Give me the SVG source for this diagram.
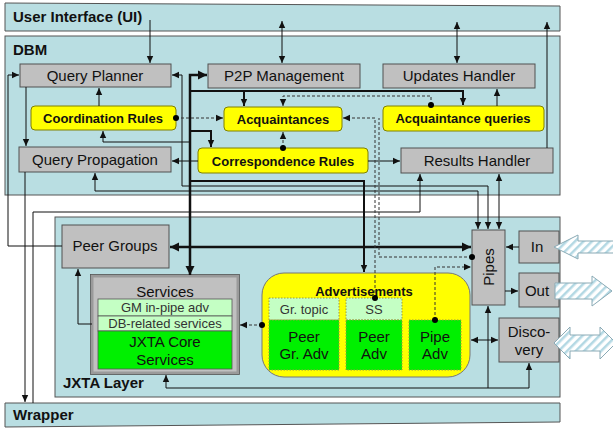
<svg xmlns="http://www.w3.org/2000/svg" width="613" height="428" viewBox="0 0 613 428">
<defs>
<style>
.layer{fill:#b9dee2;stroke:#555;stroke-width:1}
.gray{fill:#c0c0c0;stroke:#505050;stroke-width:1}
.yel{fill:#ffff00;stroke:#808000;stroke-width:1}
.lg{fill:#c4ffc4;stroke:#9a9a40;stroke-width:1;stroke-dasharray:1.5,1.5}
.bg{fill:#00f000;stroke:#9a9a40;stroke-width:1;stroke-dasharray:1.5,1.5}
.t{font-family:"Liberation Sans",Arial,sans-serif;font-size:15px;fill:#111;text-anchor:middle}
.tb{font-family:"Liberation Sans",Arial,sans-serif;font-size:13px;font-weight:bold;fill:#111;text-anchor:middle}
.ts{font-family:"Liberation Sans",Arial,sans-serif;font-size:13px;fill:#333;text-anchor:middle}
.title{font-family:"Liberation Sans",Arial,sans-serif;font-size:15px;font-weight:bold;fill:#111}
.c{fill:none;stroke:#111;stroke-width:1}
.ck{fill:none;stroke:#111;stroke-width:2.5}
.cm{fill:none;stroke:#111;stroke-width:2}
.cd{fill:none;stroke:#333;stroke-width:1;stroke-dasharray:3,2}
.dot{fill:#000}
.hatch{fill:url(#hp);stroke:#8aaab5;stroke-width:1}
</style>
<pattern id="hp" patternUnits="userSpaceOnUse" width="6" height="6" patternTransform="rotate(45)">
<rect width="6" height="6" fill="#ffffff"/>
<rect width="2.5" height="6" fill="#b3d8e3"/>
</pattern>
<marker id="a" markerUnits="userSpaceOnUse" markerWidth="8" markerHeight="8" refX="7" refY="4" orient="auto-start-reverse">
<path d="M0,0.8 L7,4 L0,7.2 Z" fill="#111"/>
</marker>
<marker id="ak" markerUnits="userSpaceOnUse" markerWidth="10" markerHeight="10" refX="9" refY="5" orient="auto-start-reverse">
<path d="M0,0.5 L9,5 L0,9.5 Z" fill="#111"/>
</marker>
</defs>

<g id="ui">
<polygon class="layer" points="5,3 560,6 560,31 5,31"/>
<text class="title" x="13" y="22">User Interface (UI)</text>
</g>
<g id="dbm">
<rect class="layer" x="5" y="36" width="555" height="159"/>
<text class="title" x="13" y="55">DBM</text>
</g>
<g id="jxta">
<rect class="layer" x="55" y="217" width="505" height="180"/>
<text class="title" x="63" y="388">JXTA Layer</text>
</g>
<g id="wrapper">
<polygon class="layer" points="5,403 560,403 560,422 5,427"/>
<text class="title" x="13" y="420">Wrapper</text>
</g>

<g id="query-planner"><rect class="gray" x="20" y="64" width="151" height="23"/><text class="t" x="95" y="81">Query Planner</text></g>
<g id="p2p-management"><rect class="gray" x="208" y="64" width="152" height="24"/><text class="t" x="284" y="81">P2P Management</text></g>
<g id="updates-handler"><rect class="gray" x="383" y="64" width="152" height="24"/><text class="t" x="459" y="81">Updates Handler</text></g>
<g id="coordination-rules"><rect class="yel" x="31" y="106" width="145" height="24" rx="4"/><text class="tb" x="103" y="123">Coordination Rules</text></g>
<g id="acquaintances"><rect class="yel" x="224" y="107" width="118" height="24" rx="4"/><text class="tb" x="283" y="124">Acquaintances</text></g>
<g id="acquaintance-queries"><rect class="yel" x="383" y="106" width="161" height="25" rx="4"/><text class="tb" x="463" y="123">Acquaintance queries</text></g>
<g id="query-propagation"><rect class="gray" x="19" y="147" width="152" height="25"/><text class="t" x="95" y="165">Query Propagation</text></g>
<g id="correspondence-rules"><rect class="yel" x="198" y="148" width="170" height="25" rx="4"/><text class="tb" x="283" y="166">Correspondence Rules</text></g>
<g id="results-handler"><rect class="gray" x="401" y="148" width="152" height="25"/><text class="t" x="477" y="166">Results Handler</text></g>

<g id="peer-groups"><rect class="gray" x="62" y="225" width="107" height="43"/><text class="t" x="115" y="251">Peer Groups</text></g>
<g id="services">
<rect x="92" y="276" width="146" height="97" fill="#c0c0c0" stroke="#9a9a9a" stroke-width="3"/>
<rect x="90.5" y="274.5" width="149" height="100" fill="none" stroke="#555" stroke-width="0.8"/>
<text class="t" x="165" y="297">Services</text>
<rect x="98" y="299" width="134" height="17" fill="#c4ffc4" stroke="#555" stroke-width="0.8"/>
<text class="ts" x="165" y="312">GM in-pipe adv</text>
<rect x="98" y="316" width="134" height="15" fill="#c4ffc4" stroke="#555" stroke-width="0.8"/>
<text class="ts" x="165" y="328">DB-related services</text>
<rect x="98" y="331" width="134" height="38" fill="#00f000" stroke="#555" stroke-width="0.8"/>
<text class="t" x="165" y="347">JXTA Core</text>
<text class="t" x="165" y="365">Services</text>
</g>
<g id="advertisements">
<rect x="262" y="273" width="208" height="104" rx="22" fill="#ffff00" stroke="#777" stroke-width="1"/>
<text class="tb" x="364" y="296">Advertisements</text>
<rect class="lg" x="269" y="298" width="70" height="22"/>
<text class="ts" x="304" y="314">Gr. topic</text>
<rect class="bg" x="269" y="320" width="70" height="50"/>
<text class="t" x="304" y="342">Peer</text>
<text class="t" x="304" y="359">Gr. Adv</text>
<rect class="lg" x="346" y="298" width="56" height="22"/>
<text class="ts" x="374" y="314">SS</text>
<rect class="bg" x="346" y="320" width="56" height="50"/>
<text class="t" x="374" y="342">Peer</text>
<text class="t" x="374" y="359">Adv</text>
<rect class="bg" x="409" y="320" width="52" height="50"/>
<text class="t" x="435" y="342">Pipe</text>
<text class="t" x="435" y="359">Adv</text>
</g>
<g id="pipes"><rect class="gray" x="472" y="230" width="33" height="75"/><text class="t" transform="translate(494,267) rotate(-90)">Pipes</text></g>
<g id="in"><rect class="gray" x="519" y="231" width="40" height="32"/><text class="t" x="537" y="252">In</text></g>
<g id="out"><rect class="gray" x="519" y="273" width="40" height="34"/><text class="t" x="537" y="296">Out</text></g>
<g id="discovery"><rect class="gray" x="499" y="318" width="60" height="44"/><text class="t" x="529" y="337">Disco-</text><text class="t" x="529" y="355">very</text></g>

<g id="external-arrows">
<path class="hatch" d="M554,247 L578,235 L578,241 L614,241 L614,253 L578,253 L578,259 Z"/>
<path class="hatch" d="M555,283 L592,283 L592,276 L612,291 L592,306 L592,299 L555,299 Z"/>
<path class="hatch" d="M554,343 L570,327 L570,335 L600,335 L600,327 L616,343 L600,359 L600,351 L570,351 L570,359 Z"/>
</g>

<g id="connectors">
<path class="c" d="M150,20 V63" marker-end="url(#a)"/>
<path class="c" d="M282,21 V63" marker-start="url(#a)" marker-end="url(#a)"/>
<path class="c" d="M457,22 V63" marker-start="url(#a)" marker-end="url(#a)"/>
<path class="c" d="M547,148 V22" marker-end="url(#a)"/>
<path class="c" d="M26,87 V146" marker-end="url(#a)"/>
<path class="c" d="M99,106 V88" marker-end="url(#a)"/>
<path class="c" d="M198,161 H172" marker-end="url(#a)"/>
<path class="c" d="M190,142 H103 V131" marker-end="url(#a)"/>
<path class="ck" d="M207,75 H190 V275" marker-start="url(#ak)" marker-end="url(#ak)"/>
<path class="cm" d="M190,91 H463 V105" marker-end="url(#a)"/>
<path class="cm" d="M244,91 V106" marker-end="url(#a)"/>
<path class="cm" d="M190,131 H211 V147" marker-end="url(#a)"/>
<path class="ck" d="M170,247 H471" marker-start="url(#ak)" marker-end="url(#ak)"/>
<path class="cm" d="M190,181 H364 V272" marker-end="url(#a)"/>
<path class="c" d="M172,75 H182 V186 H488 V229" marker-start="url(#a)" marker-end="url(#a)"/>
<path class="c" d="M95,173 V191 H478 V229" marker-start="url(#a)" marker-end="url(#a)"/>
<path class="c" d="M499,174 V229" marker-start="url(#a)" marker-end="url(#a)"/>
<path class="c" d="M33,403 V212 H420 V174" marker-end="url(#a)"/>
<path class="c" d="M62,246 H8 V75 H19" marker-end="url(#a)"/>
<path class="c" d="M25,172 V402" marker-end="url(#a)"/>
<path class="c" d="M368,161 H400" marker-end="url(#a)"/>
<path class="c" d="M497,106 V89" marker-end="url(#a)"/>
<path class="c" d="M92,324 H78 V269" marker-end="url(#a)"/>
<path class="c" d="M166,388 H529 V363" marker-end="url(#a)"/>
<path class="c" d="M166,388 V375" marker-end="url(#a)"/>
<path class="c" d="M488,388 V306" marker-end="url(#a)"/>
<path class="c" d="M471,340 H498" marker-start="url(#a)" marker-end="url(#a)"/>
<path class="c" d="M519,247 H506" marker-end="url(#a)"/>
<path class="c" d="M505,291 H518" marker-end="url(#a)"/>
<path class="cd" d="M176,118 H223" marker-end="url(#a)"/>
<path class="cd" d="M283,148 V132" marker-end="url(#a)"/>
<path class="cd" d="M431,105 V96 H283 V106" marker-end="url(#a)"/>
<path class="cd" d="M375,298 V118 H343" marker-end="url(#a)"/>
<path class="cd" d="M472,257 H379 V118"/>
<path class="cd" d="M435,320 V267 H471" marker-end="url(#a)"/>
<path class="cd" d="M262,325 H240" marker-end="url(#a)"/>
<circle class="dot" cx="176" cy="118" r="3"/>
<circle class="dot" cx="283" cy="148" r="3"/>
<circle class="dot" cx="431" cy="105" r="3"/>
<circle class="dot" cx="375" cy="298" r="3"/>
<circle class="dot" cx="472" cy="257" r="3"/>
<circle class="dot" cx="435" cy="320" r="3"/>
<circle class="dot" cx="262" cy="325" r="3"/>
</g>
</svg>
